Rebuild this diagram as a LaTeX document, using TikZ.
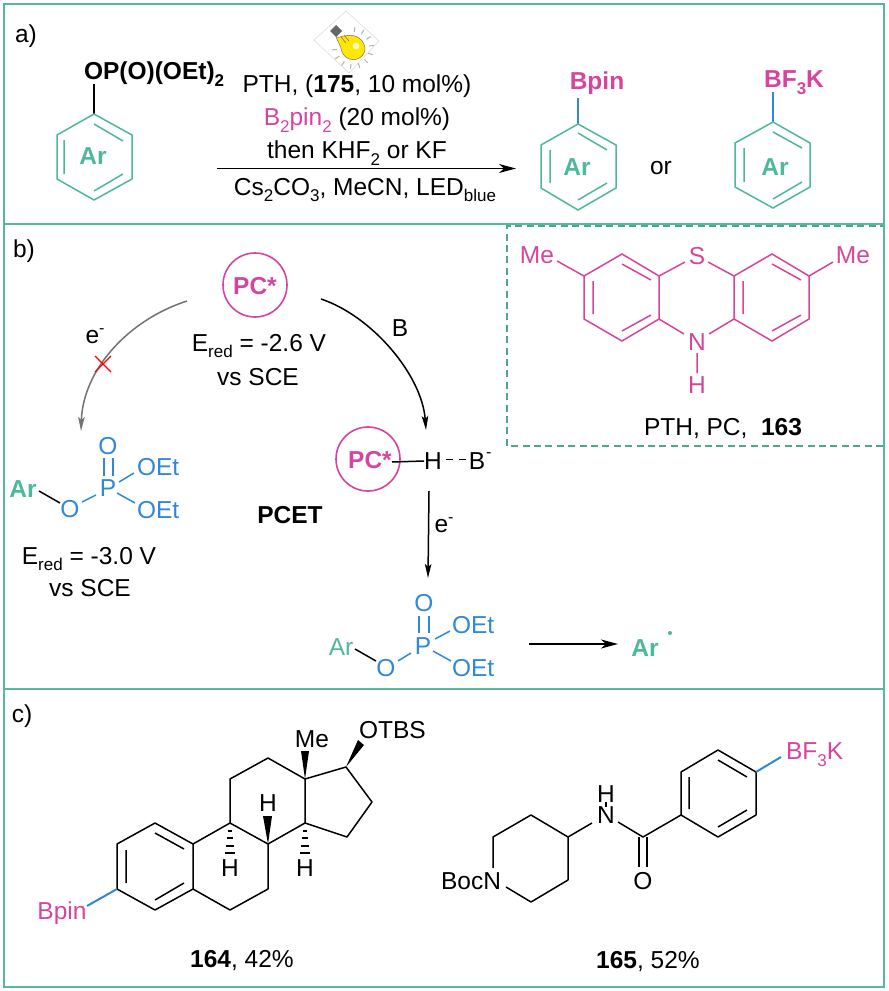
\documentclass[tikz,border=0pt]{standalone}
\usepackage{fontspec}
\setmainfont{Liberation Sans}
\usetikzlibrary{arrows.meta,calc}
\definecolor{frameG}{HTML}{57B8A0}
\definecolor{arG}{HTML}{4DB89B}
\definecolor{pinkC}{HTML}{D6449E}
\definecolor{blueC}{HTML}{2F88D8}
\newcommand{\sbs}[1]{\raisebox{-0.28em}{\fontsize{17}{17}\selectfont #1}}
\newcommand{\sps}[1]{\raisebox{0.42em}{\fontsize{16}{16}\selectfont #1}}
\tikzset{
  lab/.style={inner sep=0pt,outer sep=0pt,font=\fontsize{24.5}{27}\selectfont,text=black},
  blab/.style={lab,font=\fontsize{24.5}{27}\selectfont\bfseries},
  bond/.style={line width=1.5pt,black},
  gbond/.style={line width=1.5pt,arG},
  pbond/.style={line width=1.5pt,pinkC},
  cbond/.style={line width=1.5pt,blueC},
  hv/.style={line width=2pt,blueC},
  framel/.style={line width=1.8pt,frameG},
  arr/.style={line width=1.5pt,black,-{Stealth[length=17pt,width=9pt,inset=5pt]}},
  carr/.style={line width=1.5pt,-{Stealth[length=14pt,width=6.5pt,inset=3pt]}},
  pcring/.style={circle,draw=pinkC,line width=1.6pt,minimum size=64pt,inner sep=0pt},
}
\begin{document}
\begin{tikzpicture}[x=1pt,y=-1pt]
\useasboundingbox (0,0) rectangle (889,991);
\fill[white] (0,0) rectangle (889,991);
% frames
\draw[framel] (4,4) rectangle (884,987);
\draw[framel] (4,224) -- (884,224);
\draw[framel] (4,689) -- (884,689);
\draw[line width=1.5pt,frameG!90!black,dash pattern=on 7pt off 4.4pt] (883,446) -- (507,446) -- (507,226) -- (883,226);
% panel letters
\node[lab] (la) at (26,36) {a)};
\node[lab] (lb) at (24,251) {b)};
\node[lab] (lc) at (22,716) {c)};
% --- a) substrate
\node[blab,anchor=west] (sub) at (84,74) {OP(O)(OEt)\sbs{2}};
\draw[bond] (94,114) -- (94,84);
\draw[gbond,line join=miter] (94,114)--(132,135)--(132,179)--(94,200)--(57,179)--(57,135)--cycle;
\draw[gbond] (94,124)--(123,141) (64,140)--(64,174) (94,191)--(123,174);
\node[blab,text=arG] (ar1) at (93,156) {Ar};
% bulb
\fill[white,draw=black!15,line width=.5pt] (314,40)--(346,11)--(379,41)--(349,73)--cycle;
\foreach \a in {-85,-59,-33,-7,19,45,71,97,123,149,175}
  \draw[black!30,line width=1pt] ($(353,48)+(\a:16)$) -- ($(353,48)+(\a:21)$);
\fill[yellow!90!orange,draw=black!55,line width=.5pt] (336,37) .. controls (340,38) and (341,36) .. (345,36) .. controls (360,32) and (368,46) .. (364,53) .. controls (360,62) and (346,62) .. (342,52) .. controls (341,46) and (338,42) .. (336,37) -- cycle;
\fill[white!70!yellow] (356,46) circle (3.5pt);
\fill[black!60] (330,31)--(336,25)--(342,31)--(336,37)--cycle;
\draw[orange!70!black,line width=.5pt] (341,37)--(346,43) (344,35)--(349,41);
% reagents
\node[lab] (r1) at (357,86.5) {PTH, (\textbf{175}, 10 mol\%)};
\node[lab] (r2) at (357,120) {\textcolor{pinkC}{B\sbs{2}pin\sbs{2}} (20 mol\%)};
\node[lab] (r3) at (357,153) {then KHF\sbs{2} or KF};
\node[lab] (r4) at (365,190) {Cs\sbs{2}CO\sbs{3}, MeCN, LED\sbs{blue}};
\coordinate (a0) at (217,168.5);
\coordinate (a1) at (516,168.5);
\draw[arr] (a0) -- (a1);
% products
\draw[hv] (578,124) -- (578,98);
\node[blab,text=pinkC] (bpin1) at (597,83) {Bpin};
\draw[gbond] (578,124)--(616,145)--(616,188)--(578,210)--(541,188)--(541,145)--cycle;
\draw[gbond] (578,133)--(607,150) (550,150)--(550,183) (578,200)--(607,183);
\node[blab,text=arG] (ar2) at (577,167) {Ar};
\node[lab] (or) at (661,168) {or};
\draw[hv] (773,122) -- (773,92);
\node[blab,text=pinkC] (bf1) at (794,82.5) {BF\sbs{3}K};
\draw[gbond] (773,122)--(810,143)--(810,187)--(773,208)--(735,187)--(735,143)--cycle;
\draw[gbond] (773,132)--(802,148) (744,148)--(744,182) (773,199)--(802,182);
\node[blab,text=arG] (ar3) at (775,167) {Ar};
% --- b)
\node[pcring] (pc1) at (255,285) {};
\node[blab,text=pinkC] (pc1t) at (255,286) {PC*};
\node[lab] (e1) at (259,346) {E\sbs{red} = -2.6 V};
\node[lab] (e1b) at (258,377) {vs SCE};
\node[lab] (em1) at (95,336) {e\sps{-}};
\node[lab] (bl) at (400,328) {B};
\coordinate (g0) at (187,301);
\coordinate (g1) at (81,431);
\coordinate (k0) at (321,299);
\coordinate (k1) at (426,430);
\draw[carr,black!55] (g0) .. controls (128,320) and (83,370) .. (g1);
\draw[carr,black] (k0) .. controls (372,316) and (422,375) .. (k1);
\draw[red,line width=1.4pt] (95,356) -- (111,372) (111,356) -- (95,372);
% upper phosphate
\node[blab,text=arG] (ar4) at (23,489) {Ar};
\draw[bond] (39,491)--(60,503);
\node[lab,text=blueC] (o1) at (70,509) {O};
\draw[cbond] (82,502)--(96,495);
\node[lab,text=blueC] (p1) at (108,488) {P};
\draw[cbond] (104,458)--(104,476) (113,458)--(113,476);
\node[lab,text=blueC] (o2) at (108,446) {O};
\draw[cbond] (119,482)--(134,473) (117,493)--(135,503);
\node[lab,text=blueC,anchor=west] (oe1) at (137,467) {OEt};
\node[lab,text=blueC,anchor=west] (oe2) at (137,510) {OEt};
\node[lab] (e2) at (89,559) {E\sbs{red} = -3.0 V};
\node[lab] (e2b) at (90,588) {vs SCE};
\node[blab] (pcet) at (290,515) {PCET};
% PC*-H--B
\node[pcring] (pc2) at (368,459) {};
\node[blab,text=pinkC] (pc2t) at (370,460) {PC*};
\node[lab] (h1) at (433,461) {H};
\node[lab] (b2) at (477,461) {B};
\node[lab,anchor=west] (bm) at (486,455) {\fontsize{16}{16}\selectfont -};
\draw[bond] (392,462) -- (h1.west);
\draw[bond] (445.5,459.5)--(452.5,459.5) (459,459.5)--(466,459.5);
\coordinate (d0) at (429,491);
\coordinate (d1) at (428,578);
\draw[carr,black] (d0) -- (d1);
\node[lab] (em2) at (444,525) {e\sps{-}};
% lower phosphate
\node[lab,text=arG] (ar5) at (341,647) {Ar};
\draw[bond] (355,649)--(376,661);
\node[lab,text=blueC] (o3) at (386,668) {O};
\draw[cbond] (398,661)--(411,653);
\node[lab,text=blueC] (p2) at (423,646) {P};
\draw[cbond] (419,616)--(419,633) (429,616)--(429,633);
\node[lab,text=blueC] (o4) at (424,603) {O};
\draw[cbond] (435,639)--(450,631) (433,651)--(451,661);
\node[lab,text=blueC,anchor=west] (oe3) at (452,625) {OEt};
\node[lab,text=blueC,anchor=west] (oe4) at (452,668) {OEt};
\coordinate (f0) at (529,644);
\coordinate (f1) at (618,644);
\draw[arr] (f0) -- (f1);
\node[blab,text=arG] (ar6) at (645,648) {Ar};
\fill[arG] (670,633) circle (2pt);
% PTH
\node[lab,text=pinkC] (me1) at (537,255) {Me};
\node[lab,text=pinkC] (me2) at (853,255) {Me};
\node[lab,text=pinkC] (s1) at (697,256) {S};
\node[lab,text=pinkC] (n1) at (697,342) {N};
\node[lab,text=pinkC] (h2) at (697,385) {H};
\draw[pbond] (557,261)--(584,276) (809,276)--(833,262);
\draw[pbond] (584,276)--(622,254)--(659,276)--(659,319)--(622,341)--(584,319)--cycle;
\draw[pbond] (593,281)--(593,314) (622,264)--(651,280) (622,331)--(651,315);
\draw[pbond] (734,276)--(772,254)--(809,276)--(809,319)--(772,341)--(734,319)--cycle;
\draw[pbond] (743,281)--(743,314) (772,264)--(801,280) (772,331)--(801,315);
\draw[pbond] (659,276)--(685,262) (708,262)--(734,276) (659,319)--(684,334) (709,334)--(734,319) (697,353)--(697,373);
\node[lab] (pth) at (723,428.5) {PTH, PC,\ \ \textbf{163}};
% --- c) 164
\draw[bond,line join=round] (117,844)--(155,823)--(193,844)--(193,889)--(155,910)--(117,889)--cycle;
\draw[bond] (126,850)--(126,883) (155,833)--(184,849) (155,900)--(184,883);
\draw[hv] (117,889)--(87,906);
\node[lab,text=pinkC] (bpin2) at (62,913) {Bpin};
\draw[bond,line join=round] (193,844)--(230,823)--(268,844)--(268,889)--(230,910)--(193,889);
\draw[bond,line join=round] (230,823)--(230,779)--(268,758)--(305,779)--(305,823)--(268,844);
\draw[bond,line join=round] (305,779)--(346,767)--(372,802)--(347,837)--(305,823);
\fill[black] (305,779)--(301,751)--(309,751)--cycle;
\fill[black] (346,767)--(358,740)--(364,745)--cycle;
\fill[black] (268,844)--(263,816)--(272,816)--cycle;
\foreach \yy/\w in {831/2,838/3,846/4,853/5}{
  \draw[bond] (230-\w,\yy)--(230+\w,\yy);
  \draw[bond] (305-\w,\yy)--(305+\w,\yy);
}
\node[lab] (me3) at (312,739) {Me};
\node[lab,anchor=west] (otbs) at (359,730) {OTBS};
\node[lab] (h3) at (268,803) {H};
\node[lab] (h4) at (230,868) {H};
\node[lab] (h5) at (305,868) {H};
\node[lab] (c164) at (242,961) {\textbf{164}, 42\%};
% --- c) 165
\draw[bond,line join=round] (506,887)--(531,902)--(568,880)--(568,837)--(531,815)--(493,837)--(493,868);
\node[lab,anchor=east] (boc) at (501,881) {BocN};
\node[lab,align=center,anchor=south,font=\fontsize{24.5}{21}\selectfont] (nh) at (606,823.5) {H\\N};
\draw[bond] (606,802)--(606,806.5);
\draw[bond] (568,837)--(592,823) (618,822)--(643,837)--(681,815);
\draw[bond] (639,837)--(639,867) (647,837)--(647,867);
\node[lab] (o5) at (643,881) {O};
\draw[bond,line join=round] (681,815)--(681,772)--(718,750)--(756,772)--(756,815)--(718,837)--cycle;
\draw[bond] (689,777)--(689,809) (718,760)--(747,777) (718,827)--(747,810);
\draw[hv] (756,772)--(781,757);
\node[lab,text=pinkC,anchor=west] (bf2) at (786,754.5) {BF\sbs{3}K};
\node[lab] (c165) at (648,962) {\textbf{165}, 52\%};
\end{tikzpicture}
\end{document}
